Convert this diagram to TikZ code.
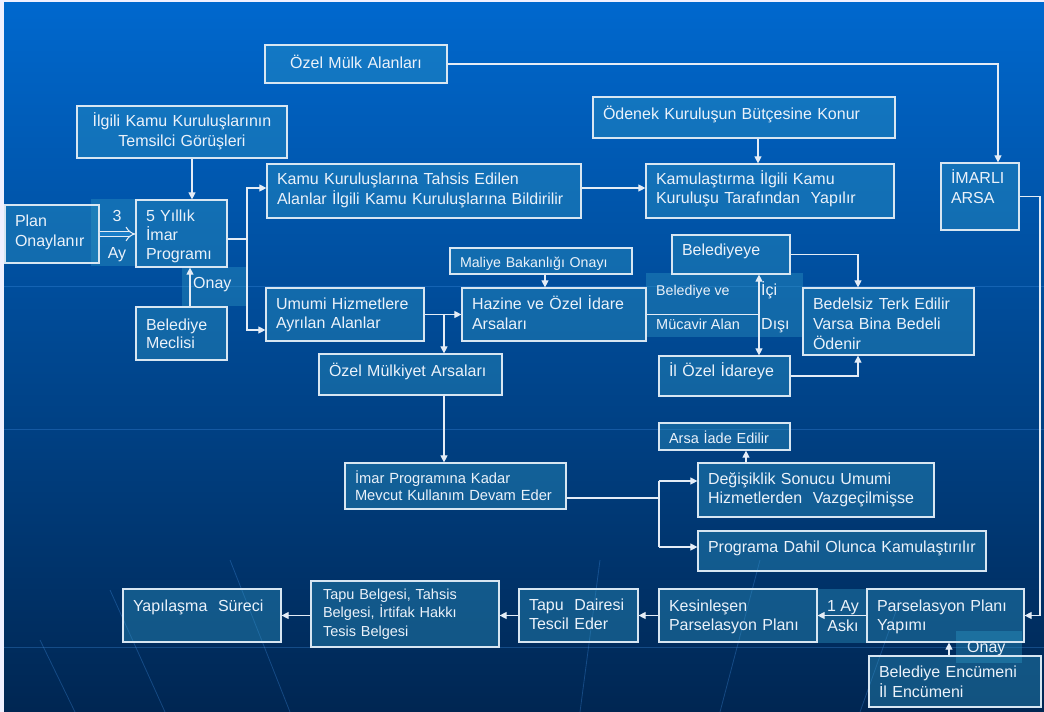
\documentclass[tikz,border=0pt]{standalone}
\usepackage{fontspec}
\setmainfont{Liberation Sans}
\usetikzlibrary{arrows.meta}
\definecolor{bgtop}{RGB}{0,104,206}
\definecolor{bgmid}{RGB}{0,78,170}
\definecolor{bgbot}{RGB}{0,38,82}
\definecolor{boxfill}{RGB}{45,150,195}
\definecolor{boxline}{RGB}{215,230,242}
\definecolor{txt}{RGB}{235,242,250}
\definecolor{lnc}{RGB}{228,236,246}
\definecolor{gridc}{RGB}{70,150,235}
\definecolor{dblin}{RGB}{25,125,200}
% #1 opts, #2 name, #3 x1, #4 y1, #5 x2, #6 y2, #7 first baseline, #8 text
\newcommand\bx[8][]{%
  \pgfmathsetmacro\bxw{#5-#3}%
  \pgfmathsetmacro\bxh{#6-#4}%
  \pgfmathsetmacro\bxcx{(#3+#5)/2}%
  \pgfmathsetmacro\bxcy{(#4+#6)/2}%
  \pgfmathsetmacro\bxtw{#5-#3-20}%
  \pgfmathsetmacro\bxo{#7-(#4+#6)/2}%
  \pgfmathsetmacro\bxH{max(2*\bxo,0)}%
  \pgfmathsetmacro\bxD{max(-2*\bxo,0)}%
  \node[box,minimum width=\bxw pt,minimum height=\bxh pt,text width=\bxtw pt,
        text height=\bxH pt,text depth=\bxD pt,#1] (#2) at (\bxcx,\bxcy) {#8};}
\begin{document}
\begin{tikzpicture}[x=1pt,y=-1pt,
  box/.style={draw=boxline,line width=1.2pt,fill=boxfill,fill opacity=0.4,
    text opacity=1,text=txt,inner xsep=10pt,inner ysep=0pt,align=left,
    font=\fontsize{16}{20}\selectfont},
  ovl/.style={draw=none},
  small/.style={font=\fontsize{14.2}{17}\selectfont},
  lbl/.style={text=txt,inner sep=0pt,font=\fontsize{16}{20}\selectfont},
  arr/.style={draw=lnc,line width=1.1pt,-{Triangle[length=7pt,width=7pt]}},
  biarr/.style={draw=lnc,line width=1.1pt,{Triangle[length=7pt,width=7pt]}-{Triangle[length=7pt,width=7pt]}},
  ln/.style={draw=lnc,line width=1.1pt},
  dblarr/.style={draw=lnc,double=dblin,double distance=4pt,line width=1.1pt,-{Implies[length=6pt]}},
  gridl/.style={draw=gridc,line width=0.8pt,opacity=0.3}
]
\useasboundingbox (0,0) rectangle (1044,712);
\fill[white!94!blue] (0,0) rectangle (1044,712);
\shade[top color=bgtop,middle color=bgmid,bottom color=bgbot] (4,2) rectangle (1044,712);
% faint background lines
\draw[gridl] (4,286) -- (1044,286);
\draw[gridl] (4,429) -- (1044,429);
\draw[gridl] (4,647) -- (1044,647);
\draw[gridl] (110,590) -- (165,712);
\draw[gridl] (40,640) -- (75,712);
\draw[gridl] (230,560) -- (290,712);
\draw[gridl] (600,560) -- (580,712);
\draw[gridl] (760,560) -- (720,712);
\draw[gridl] (900,600) -- (860,712);

% overlays
\bx[ovl]{ay3}{91}{199}{137}{266}{233}{}
\bx[ovl]{onay1}{182}{267}{247}{306}{286}{}
\bx[ovl]{belmuc}{646}{273}{803}{337}{305}{}
\bx[ovl]{aski}{817}{589}{867}{643}{616}{}
\bx[ovl]{onay2}{956}{631}{1022}{663}{647}{}

% boxes
\bx[align=center]{ozelmulk}{265}{45}{447}{83}{68}{Özel Mülk Alanları}
\bx[align=center]{ilgili}{77}{106}{287}{158}{126}{İlgili Kamu Kuruluşlarının\\Temsilci Görüşleri}
\bx{plan}{5}{205}{99}{263}{226}{Plan\\Onaylanır}
\bx[font=\fontsize{16}{19}\selectfont,inner xsep=9pt]{yillik}{136}{200}{227}{267}{221}{5 Yıllık\\İmar\\Programı}
\bx[font=\fontsize{16}{18}\selectfont]{meclis}{136}{307}{227}{360}{330}{Belediye\\Meclisi}
\bx{kamu}{267}{164}{581}{218}{184}{Kamu Kuruluşlarına Tahsis Edilen\\Alanlar İlgili Kamu Kuruluşlarına Bildirilir}
\bx{odenek}{593}{97}{895}{138}{119}{Ödenek Kuruluşun Bütçesine Konur}
\bx[font=\fontsize{16}{19}\selectfont]{kamulas}{646}{164}{894}{218}{184}{Kamulaştırma İlgili Kamu\\Kuruluşu Tarafından \ Yapılır}
\bx{imarli}{941}{163}{1019}{230}{183}{İMARLI\\ARSA}
\bx[font=\fontsize{16}{19}\selectfont]{umumi}{266}{288}{424}{341}{309}{Umumi Hizmetlere\\Ayrılan Alanlar}
\bx{hazine}{462}{288}{646}{341}{309}{Hazine ve Özel İdare\\Arsaları}
\bx[small]{maliye}{450}{248}{632}{274}{267}{Maliye Bakanlığı Onayı}
\bx{belediyeye}{672}{235}{790}{274}{255}{Belediyeye}
\bx{bedelsiz}{803}{288}{974}{355}{309}{Bedelsiz Terk Edilir\\Varsa Bina Bedeli\\Ödenir}
\bx{ilozel}{659}{356}{790}{396}{376}{İl Özel İdareye}
\bx{ozelmulkiyet}{319}{354}{502}{395}{376}{Özel Mülkiyet Arsaları}
\bx[font=\fontsize{14.7}{17}\selectfont]{imarprog}{345}{463}{566}{509}{483}{İmar Programına Kadar\\Mevcut Kullanım Devam Eder}
\bx[font=\fontsize{16}{19}\selectfont]{degisiklik}{698}{463}{934}{517}{484}{Değişiklik Sonucu Umumi\\Hizmetlerden \ Vazgeçilmişse}
\bx[font=\fontsize{14.5}{16}\selectfont]{arsaiade}{659}{423}{790}{450}{443}{Arsa İade Edilir}
\bx{programa}{698}{531}{986}{571}{552}{Programa Dahil Olunca Kamulaştırılır}
\bx{yapilasma}{123}{589}{281}{642}{611}{Yapılaşma \ Süreci}
\bx[font=\fontsize{14.5}{18.5}\selectfont,inner xsep=12pt]{tapubelgesi}{313}{581}{497}{647}{599}{Tapu Belgesi, Tahsis\\Belgesi, İrtifak Hakkı\\Tesis Belgesi}
\bx[font=\fontsize{16}{19}\selectfont]{tapudairesi}{519}{589}{638}{642}{610}{Tapu \ Dairesi\\Tescil Eder}
\bx[font=\fontsize{16}{19}\selectfont]{kesin}{659}{589}{817}{642}{611}{Kesinleşen\\Parselasyon Planı}
\bx[font=\fontsize{16}{19}\selectfont]{parsel}{867}{589}{1024}{642}{611}{Parselasyon Planı\\Yapımı}
\bx{encumeni}{869}{656}{1041}{707}{677}{Belediye Encümeni\\İl Encümeni}

% overlay labels
\node[lbl,anchor=base] (t3) at (117,221) {3};
\node[lbl,anchor=base] (tay) at (117,258) {Ay};
\node[lbl,anchor=base west] (tonay1) at (193,288) {Onay};
\node[lbl,anchor=base west,font=\fontsize{14.2}{17}\selectfont] (tbelve) at (656,295) {Belediye ve};
\node[lbl,anchor=base west,font=\fontsize{14.5}{17}\selectfont] (tmuc) at (656,329) {Mücavir Alan};
\node[lbl,anchor=base west] (tici) at (761,295) {İçi};
\node[lbl,anchor=base west] (tdisi) at (761,329) {Dışı};
\node[lbl,anchor=base] (t1ay) at (843,611) {1 Ay};
\node[lbl,anchor=base] (taski) at (843,631) {Askı};
\node[lbl,anchor=base west] (tonay2) at (967,652) {Onay};

% helper coordinates
\coordinate (cimarli) at (998,0);
\coordinate (cright) at (1040,400);
\coordinate (cilg) at (192,0);
\coordinate (cmec) at (190,0);
\coordinate (csplit) at (247,239);
\coordinate (ckamu) at (0,188);
\coordinate (cumumi) at (0,330);
\coordinate (codenek) at (758,0);
\coordinate (cbranch) at (444,314.5);
\coordinate (cmaliye) at (545,0);
\coordinate (cvert) at (759,0);
\coordinate (cbed) at (858,0);
\coordinate (cimar) at (659,498);
\coordinate (cdeg) at (659,481);
\coordinate (cprog) at (659,547);
\coordinate (carsa) at (746,0);
\coordinate (cenc) at (949,0);

% connectors
\draw[arr] (ozelmulk.east) -| (imarli.north -| cimarli);
\draw[arr] (ilgili.south -| cilg) -- (yillik.north -| cilg);
\draw[arr] (meclis.north -| cmec) -- (yillik.south -| cmec);
\draw[dblarr] (plan.east) -- (plan.east -| yillik.west);
\draw[ln] (yillik.east |- csplit) -- (csplit);
\draw[arr] (csplit) |- (kamu.west |- ckamu);
\draw[arr] (csplit) |- (umumi.west |- cumumi);
\draw[arr] (kamu.east |- ckamu) -- (kamulas.west |- ckamu);
\draw[arr] (odenek.south -| codenek) -- (kamulas.north -| codenek);
\draw[arr] (imarli.east) -| (cright) |- (parsel.east);
\draw[arr] (umumi.east) -- (hazine.west);
\draw[arr] (cbranch) -- (ozelmulkiyet.north -| cbranch);
\draw[arr] (maliye.south -| cmaliye) -- (hazine.north -| cmaliye);
\draw[ln] (hazine.east) -- (hazine.east -| cvert);
\draw[biarr] (belediyeye.south -| cvert) -- (ilozel.north -| cvert);
\draw[arr] (belediyeye.east) -| (bedelsiz.north -| cbed);
\draw[arr] (ilozel.east) -| (bedelsiz.south -| cbed);
\draw[arr] (ozelmulkiyet.south -| cbranch) -- (imarprog.north -| cbranch);
\draw[ln] (imarprog.east |- cimar) -- (cimar);
\draw[ln] (cdeg) -- (cprog);
\draw[arr] (cdeg) -- (degisiklik.west |- cdeg);
\draw[arr] (cprog) -- (programa.west |- cprog);
\draw[arr] (degisiklik.north -| carsa) -- (arsaiade.south -| carsa);
\draw[arr] (tapubelgesi.west |- yapilasma.east) -- (yapilasma.east);
\draw[arr] (tapudairesi.west) -- (tapubelgesi.east |- tapudairesi.west);
\draw[arr] (kesin.west) -- (tapudairesi.east);
\draw[arr] (parsel.west) -- (kesin.east);
\draw[arr] (encumeni.north -| cenc) -- (parsel.south -| cenc);
\end{tikzpicture}
\end{document}
